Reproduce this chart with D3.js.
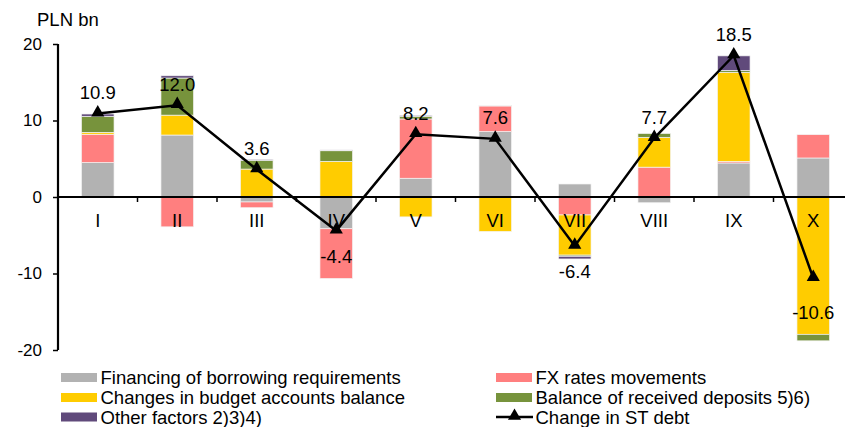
<!DOCTYPE html>
<html>
<head>
<meta charset="utf-8">
<script src="https://cdn.jsdelivr.net/npm/d3@7"></script>
<style>
  html, body { margin: 0; padding: 0; background: #fff; }
  svg { display: block; font-family: Arial, "Liberation Sans", sans-serif; }
</style>
</head>
<body>
<svg id="chart" width="845" height="427"></svg>
<script>
// Monthly change in short-term debt, by contributing factor (PLN bn)
const months = ["I", "II", "III", "IV", "V", "VI", "VII", "VIII", "IX", "X"];

const financing = [4.5, 8.1, -0.65, -4.15, 2.45, 8.55, 1.7, -0.75, 4.45, 5.1];
const fxMovements = [3.7, -3.9, -0.75, -6.5, 7.75, 3.35, -2.35, 3.9, 0.2, 3.05];
const budgetAccounts = [0.25, 2.6, 3.65, 4.65, -2.6, -4.5, -5.25, 3.9, 11.65, -17.95];
const receivedDeposits = [2.1, 4.85, 1.15, 1.4, 0.35, 0.05, -0.15, 0.5, 0.25, -0.85];
const otherFactors = [0.3, 0.3, 0.12, 0.1, 0.12, 0, -0.35, 0, 1.9, 0];

const stDebtChange = [10.9, 12.0, 3.6, -4.4, 8.2, 7.6, -6.4, 7.7, 18.5, -10.6];

const yTicks = [-20, -10, 0, 10, 20];

const seriesNames = [
  "Financing of borrowing requirements",
  "FX rates movements",
  "Changes in budget accounts balance",
  "Balance of received deposits 5)6)",
  "Other factors 2)3)4)"
];
const lineName = "Change in ST debt";

// --- styling ---
const colors = ["#B2B2B2", "#FF7F7F", "#FFCC00", "#77933C", "#604A7B"];
const fontSize = 18.5;
const tickFontSize = 17;

// plain hyphen for negative numbers
const locale = d3.formatLocale({ decimal: ".", thousands: ",", grouping: [3], currency: ["", ""], minus: "-" });
const fmtInt = locale.format("d");
const fmtOne = locale.format(".1f");

const svg = d3.select("#chart");

const x = d3.scaleBand()
  .domain(months)
  .range([58, 853])
  .paddingInner(0.59)
  .paddingOuter(0.295);

const y = d3.scaleLinear()
  .domain([-20, 20])
  .range([350, 44]);

const keys = ["financing", "fx", "budget", "deposits", "other"];
const table = months.map((m, i) => ({
  month: m,
  financing: financing[i],
  fx: fxMovements[i],
  budget: budgetAccounts[i],
  deposits: receivedDeposits[i],
  other: otherFactors[i]
}));

const stacked = d3.stack()
  .keys(keys)
  .offset(d3.stackOffsetDiverging)(table);

// stacked bars
svg.append("g")
  .selectAll("g")
  .data(stacked)
  .join("g")
  .attr("fill", (d, i) => colors[i])
  .selectAll("rect")
  .data(d => d)
  .join("rect")
  .attr("x", d => x(d.data.month))
  .attr("width", x.bandwidth())
  .attr("y", d => y(Math.max(d[0], d[1])))
  .attr("height", d => Math.abs(y(d[0]) - y(d[1])))
  .attr("stroke", "#f4f4f4")
  .attr("stroke-width", 0.7);

// y axis
const yAxis = svg.append("g")
  .attr("transform", "translate(58,0)")
  .call(d3.axisLeft(y).tickValues(yTicks).tickSize(5).tickPadding(11).tickFormat(fmtInt));
yAxis.select(".domain").attr("stroke", "#000").attr("stroke-width", 2.2)
  .attr("d", `M0,${y(20)}V${y(-20)}`);
yAxis.selectAll(".tick line").attr("stroke", "#000").attr("stroke-width", 1.5);
yAxis.selectAll(".tick text")
  .attr("font-size", tickFontSize).attr("fill", "#000").attr("font-family", "Arial, 'Liberation Sans', sans-serif");

// x axis on the zero line, ticks between months
const xAxis = svg.append("g").attr("transform", `translate(0,${y(0)})`);
xAxis.append("line")
  .attr("x1", 58).attr("x2", 845)
  .attr("stroke", "#000").attr("stroke-width", 2.2);
xAxis.selectAll(".sep")
  .data(months.slice(1))
  .join("line")
  .attr("class", "sep")
  .attr("x1", d => x(d) - x.step() * x.paddingInner() / 2)
  .attr("x2", d => x(d) - x.step() * x.paddingInner() / 2)
  .attr("y1", 0).attr("y2", 5)
  .attr("stroke", "#000").attr("stroke-width", 1.5);
xAxis.selectAll(".mlabel")
  .data(months)
  .join("text")
  .attr("class", "mlabel")
  .attr("x", d => x(d) + x.bandwidth() / 2)
  .attr("y", 30)
  .attr("text-anchor", "middle")
  .attr("font-size", fontSize)
  .text(d => d);

// unit label
svg.append("text")
  .attr("x", 37).attr("y", 25.5)
  .attr("font-size", fontSize)
  .text("PLN bn");

// change in ST debt line
const cx = (d, i) => x(months[i]) + x.bandwidth() / 2;
const line = d3.line().x(cx).y(d => y(d));
svg.append("path")
  .datum(stDebtChange)
  .attr("d", line)
  .attr("fill", "none")
  .attr("stroke", "#000")
  .attr("stroke-width", 2.5);

const tri = d3.symbol().type(d3.symbolTriangle).size(75);
svg.append("g")
  .selectAll("path")
  .data(stDebtChange)
  .join("path")
  .attr("transform", (d, i) => `translate(${cx(d, i)},${y(d) - 1})`)
  .attr("d", tri)
  .attr("fill", "#000");

// value labels: above positive points, below negative ones
svg.append("g")
  .selectAll("text")
  .data(stDebtChange)
  .join("text")
  .attr("x", cx)
  .attr("y", (d, i) => {
    if (d >= 0) return y(d) - 14.5;
    return y(d) + (i === stDebtChange.length - 1 ? 40.5 : 32);
  })
  .attr("text-anchor", "middle")
  .attr("font-size", fontSize)
  .text(d => fmtOne(d));

// legend
const legendItems = [
  { name: seriesNames[0], color: colors[0], col: 0, row: 0 },
  { name: seriesNames[1], color: colors[1], col: 1, row: 0 },
  { name: seriesNames[2], color: colors[2], col: 0, row: 1 },
  { name: seriesNames[3], color: colors[3], col: 1, row: 1 },
  { name: seriesNames[4], color: colors[4], col: 0, row: 2 },
  { name: lineName, color: null, col: 1, row: 2 }
];
const colX = [61, 496];
const rowY = [377.5, 397.5, 417];
const legend = svg.append("g");
legendItems.forEach(it => {
  const g = legend.append("g")
    .attr("transform", `translate(${colX[it.col]},${rowY[it.row]})`);
  if (it.color) {
    g.append("rect")
      .attr("x", 0).attr("y", -4.5)
      .attr("width", 36).attr("height", 9)
      .attr("fill", it.color);
  } else {
    g.append("line")
      .attr("x1", 0).attr("x2", 37)
      .attr("stroke", "#000").attr("stroke-width", 2.5);
    g.append("path")
      .attr("transform", "translate(18.5,-1)")
      .attr("d", tri)
      .attr("fill", "#000");
  }
  g.append("text")
    .attr("x", 39.5)
    .attr("y", 6.5)
    .attr("font-size", fontSize)
    .text(it.name);
});
</script>
</body>
</html>
